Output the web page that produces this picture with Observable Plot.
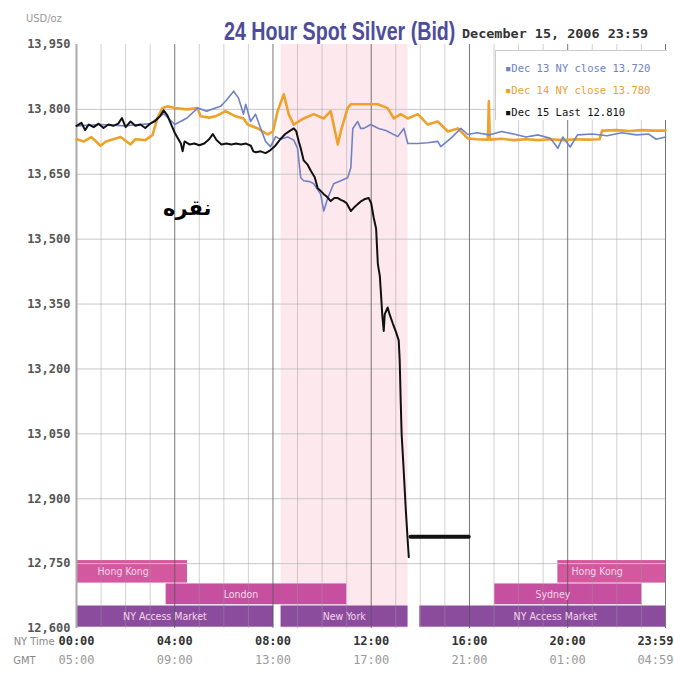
<!DOCTYPE html>
<html><head><meta charset="utf-8">
<script src="https://cdn.jsdelivr.net/npm/d3@7"></script>
<script src="https://cdn.jsdelivr.net/npm/@observablehq/plot@0.6"></script>
<style>
body{margin:0;background:#fff;}
#wrap{position:relative;width:674px;height:696px;overflow:hidden;background:#fff;}
#unit{position:absolute;left:26px;top:12px;font:11px "DejaVu Sans Condensed",sans-serif;color:#999;}
#title{position:absolute;left:224px;top:17px;font:bold 25px "Liberation Sans Narrow",sans-serif;color:#4d4d9c;white-space:nowrap;transform-origin:0 0;}
#date{position:absolute;left:462px;top:26px;font:bold 12.5px "DejaVu Sans Mono",monospace;color:#333;white-space:nowrap;transform-origin:0 0;}
#chart{position:absolute;left:0;top:36px;}
#legend{position:absolute;left:495px;top:50px;width:172px;height:70px;background:#fff;border-left:1px solid #ccc;border-top:1px solid #ccc;box-sizing:border-box;padding:6px 0 0 9px;font:10.5px "DejaVu Sans Mono",monospace;line-height:22px;white-space:nowrap;}
#ann{position:absolute;left:163px;top:196px;font:bold 21px "DejaVu Sans",sans-serif;color:#000;direction:rtl;}
</style></head><body>
<div id="wrap">
  <div id="unit">USD/oz</div>
  <div id="title">24 Hour Spot Silver (Bid)</div>
  <div id="date">December 15, 2006 23:59</div>
  <div id="chart"></div>
  <div id="legend"></div>
  <div id="ann">نقره</div>
</div>
<script>
// ---- tick labels ----
const yTicks = [13950, 13800, 13650, 13500, 13350, 13200, 13050, 12900, 12750, 12600];
const yGrid = [13800, 13650, 13500, 13350, 13200, 13050, 12900, 12750];
const tickHours = [0, 4, 8, 12, 16, 20, 23.983];
const nyLabels = ["00:00", "04:00", "08:00", "12:00", "16:00", "20:00", "23:59"];
const gmtLabels = ["05:00", "09:00", "13:00", "17:00", "21:00", "01:00", "04:59"];
const hourGrid = [1, 2, 3, 5, 6, 7, 9, 10, 11, 13, 14, 15, 17, 18, 19, 21, 22, 23];
const majorGrid = [4, 8, 12, 16, 20, 23.983];

// ---- legend ----
const seriesNames = ["Dec 13 NY close 13.720", "Dec 14 NY close 13.780", "Dec 15 Last 12.810"];
const seriesColors = ["#6f82c4", "#eda22c", "#111111"];

// ---- NY session shading ----
const nySession = [8.33, 13.5];

// ---- market bars ----
const marketNames = ["Hong Kong", "Hong Kong", "London", "Sydney", "NY Access Market", "New York", "NY Access Market"];
const marketStart = [0, 19.6, 3.65, 17.03, 0, 8.33, 13.98];
const marketEnd = [4.52, 23.983, 11.0, 23.02, 8.03, 13.5, 23.983];
const marketRow = [0, 0, 1, 1, 2, 2, 2];
const marketLabelHour = [1.9, 21.2, 6.7, 19.4, 3.6, 10.9, 19.5];
const rowLow = [12705, 12655, 12603];
const rowHigh = [12757, 12703, 12652];
const rowColor = ["#d4589f", "#c64f9f", "#8b4c9e"];

// ---- series: Dec 13 (blue) ----
const dec13T = [0,1,2,3,3.55,4.0,4.5,4.93,5.3,5.87,6.1,6.4,6.6,6.8,6.89,7.09,7.29,7.5,7.7,7.9,8.11,8.3,8.6,8.85,9.0,9.13,9.25,9.5,9.66,9.94,10.07,10.23,10.47,10.76,11.04,11.17,11.25,11.45,11.57,11.7,11.98,12.3,12.6,13.08,13.33,13.49,13.9,14.3,14.71,14.83,15.24,15.65,15.93,16.3,16.8,17.3,17.8,18.3,18.8,19.3,19.6,19.8,20.1,20.4,21.0,21.6,22.2,22.8,23.3,23.6,23.983];
const dec13V = [13762,13765,13762,13767,13790,13765,13780,13803,13796,13807,13821,13842,13826,13789,13812,13772,13789,13756,13726,13714,13737,13731,13736,13729,13710,13642,13635,13633,13628,13604,13565,13595,13628,13635,13642,13665,13756,13772,13756,13756,13765,13756,13751,13737,13756,13721,13721,13723,13726,13714,13733,13756,13742,13746,13741,13749,13743,13736,13741,13733,13710,13736,13713,13741,13743,13739,13746,13741,13743,13731,13736];

// ---- series: Dec 14 (orange) ----
const dec14T = [0,0.3,0.6,0.98,1.2,1.5,1.8,2.2,2.4,2.8,3.1,3.3,3.5,3.71,4.0,4.5,4.93,5.05,5.4,5.66,6.07,6.48,6.8,6.97,7.38,7.78,8.0,8.19,8.44,8.64,8.84,9.25,9.66,10.07,10.35,10.47,10.64,10.76,11.04,11.17,11.57,12.27,12.67,12.92,13.2,13.49,13.9,14.3,14.71,15.12,15.53,15.93,16.3,16.75,16.79,16.83,17.3,17.8,18.3,18.8,19.3,19.8,20.3,20.8,21.3,21.4,22.0,22.5,23.0,23.5,23.983];
const dec14V = [13731,13726,13736,13716,13726,13731,13736,13719,13731,13729,13741,13781,13803,13807,13803,13800,13803,13784,13781,13784,13796,13784,13779,13765,13756,13742,13749,13796,13835,13789,13765,13779,13789,13779,13796,13765,13719,13749,13803,13812,13812,13812,13803,13779,13789,13779,13789,13765,13772,13749,13756,13733,13731,13730,13819,13730,13732,13729,13731,13729,13731,13729,13731,13730,13731,13751,13752,13750,13752,13751,13751];

// ---- series: Dec 15 (black) ----
const dec15T = [0,0.2,0.35,0.5,0.7,0.9,1.1,1.3,1.5,1.7,1.85,2.0,2.2,2.4,2.6,2.8,3.0,3.2,3.4,3.55,3.7,3.85,4.0,4.15,4.25,4.32,4.4,4.6,4.8,5.0,5.2,5.4,5.55,5.7,5.9,6.1,6.3,6.5,6.7,6.9,7.1,7.2,7.3,7.5,7.7,7.9,8.1,8.3,8.5,8.7,8.85,8.95,9.05,9.13,9.25,9.4,9.54,9.7,9.82,9.95,10.07,10.2,10.35,10.5,10.64,10.76,10.88,11.0,11.17,11.3,11.45,11.6,11.75,11.9,12.0,12.1,12.2,12.27,12.35,12.39,12.45,12.51,12.55,12.67,12.75,12.88,13.0,13.12,13.16,13.2,13.24,13.3,13.41,13.49,13.53];
const dec15V = [13762,13769,13752,13765,13759,13767,13757,13765,13762,13767,13780,13759,13772,13762,13765,13757,13767,13773,13784,13798,13786,13766,13746,13731,13721,13703,13726,13719,13721,13717,13721,13731,13743,13729,13719,13721,13719,13721,13719,13721,13716,13703,13701,13703,13699,13706,13716,13731,13743,13751,13756,13749,13726,13710,13682,13673,13658,13643,13618,13611,13604,13598,13588,13595,13595,13591,13588,13583,13565,13573,13581,13588,13593,13595,13583,13550,13524,13443,13415,13381,13325,13288,13326,13342,13326,13305,13287,13266,13220,13128,13048,12989,12873,12800,12765];
const dec15LastT = [13.6, 15.97];
const dec15LastV = [12812, 12812];

// ---- build tables ----
const toRows = (T, V) => T.map((t, i) => ({t, v: V[i]}));
const blue = toRows(dec13T, dec13V);
const orange = toRows(dec14T, dec14V);
const black = toRows(dec15T, dec15V);
const blackLast = toRows(dec15LastT, dec15LastV);
const markets = marketNames.map((name, i) => ({
  name, x1: marketStart[i], x2: marketEnd[i],
  y1: rowLow[marketRow[i]], y2: rowHigh[marketRow[i]],
  ym: (rowLow[marketRow[i]] + rowHigh[marketRow[i]]) / 2,
  lx: marketLabelHour[i], fill: rowColor[marketRow[i]]
}));
const yMin = yTicks[yTicks.length - 1], yMax = yTicks[0];
const monoBold = {fontFamily: "DejaVu Sans Mono", fontWeight: "bold", fontSize: 12};

const chart = Plot.plot({
  width: 674, height: 660,
  marginLeft: 76, marginRight: 9, marginTop: 8, marginBottom: 68,
  x: {domain: [0, 23.983], axis: null},
  y: {domain: [yMin, yMax]},
  style: {background: "transparent", overflow: "visible"},
  marks: [
    Plot.rect([nySession], {x1: d => d[0], x2: d => d[1], y1: yMin, y2: yMax, fill: "#fde8ee"}),
    Plot.rect(markets, {x1: "x1", x2: "x2", y1: "y1", y2: "y2", fill: "fill"}),
    Plot.ruleY(yGrid, {stroke: "#c8c8c8", strokeWidth: 1}),
    Plot.ruleX(hourGrid, {y1: yMin, y2: yMax, stroke: "#999", strokeOpacity: 0.45, strokeWidth: 1}),
    Plot.ruleX(majorGrid, {y1: yMin, y2: yMax, stroke: "#555", strokeOpacity: 0.8, strokeWidth: 1}),
    Plot.ruleX([0], {y1: yMin, y2: yMax, stroke: "#aaa", strokeWidth: 2}),
    Plot.text(markets, {x: "lx", y: "ym", text: "name", fill: "#f6d6ea",
      fontFamily: "DejaVu Sans Condensed", fontSize: 10.5}),
    Plot.line(orange, {x: "t", y: "v", stroke: seriesColors[1], strokeWidth: 2.6}),
    Plot.line(blue, {x: "t", y: "v", stroke: seriesColors[0], strokeWidth: 1.6}),
    Plot.line(black, {x: "t", y: "v", stroke: seriesColors[2], strokeWidth: 2}),
    Plot.line(blackLast, {x: "t", y: "v", stroke: seriesColors[2], strokeWidth: 4}),
    Plot.axisY({ticks: yTicks, tickFormat: d3.format(","), tickSize: 0, tickPadding: 6,
      label: null, fill: "#555", ...monoBold}),
    Plot.text(nyLabels.slice(0, 6), {x: (d, i) => tickHours[i], text: d => d, frameAnchor: "bottom",
      dy: 16, fill: "#333", ...monoBold}),
    Plot.text(nyLabels.slice(6), {x: () => tickHours[6], text: d => d, frameAnchor: "bottom",
      dy: 16, dx: 8, textAnchor: "end", fill: "#333", ...monoBold}),
    Plot.text(gmtLabels.slice(0, 6), {x: (d, i) => tickHours[i], text: d => d, frameAnchor: "bottom",
      dy: 35, fill: "#999", ...monoBold, fontWeight: "normal"}),
    Plot.text(gmtLabels.slice(6), {x: () => tickHours[6], text: d => d, frameAnchor: "bottom",
      dy: 35, dx: 8, textAnchor: "end", fill: "#999", ...monoBold, fontWeight: "normal"}),
    Plot.text(["NY Time"], {frameAnchor: "bottom-left", dx: -22, dy: 16, textAnchor: "end", text: d => d,
      fill: "#888", fontFamily: "DejaVu Sans Condensed", fontSize: 11}),
    Plot.text(["GMT"], {frameAnchor: "bottom-left", dx: -41, dy: 35, textAnchor: "end", text: d => d,
      fill: "#888", fontFamily: "DejaVu Sans Condensed", fontSize: 11})
  ]
});
document.getElementById("chart").appendChild(chart);

// legend
const leg = document.getElementById("legend");
seriesNames.forEach((name, i) => {
  const row = document.createElement("div");
  row.style.color = seriesColors[i];
  row.textContent = "\u25AA" + name;
  leg.appendChild(row);
});

// fit title widths
const title = document.getElementById("title");
title.style.transform = `scaleX(${231 / title.offsetWidth})`;
const date = document.getElementById("date");
date.style.transform = `scaleX(${186 / date.offsetWidth})`;
</script>
</body></html>
